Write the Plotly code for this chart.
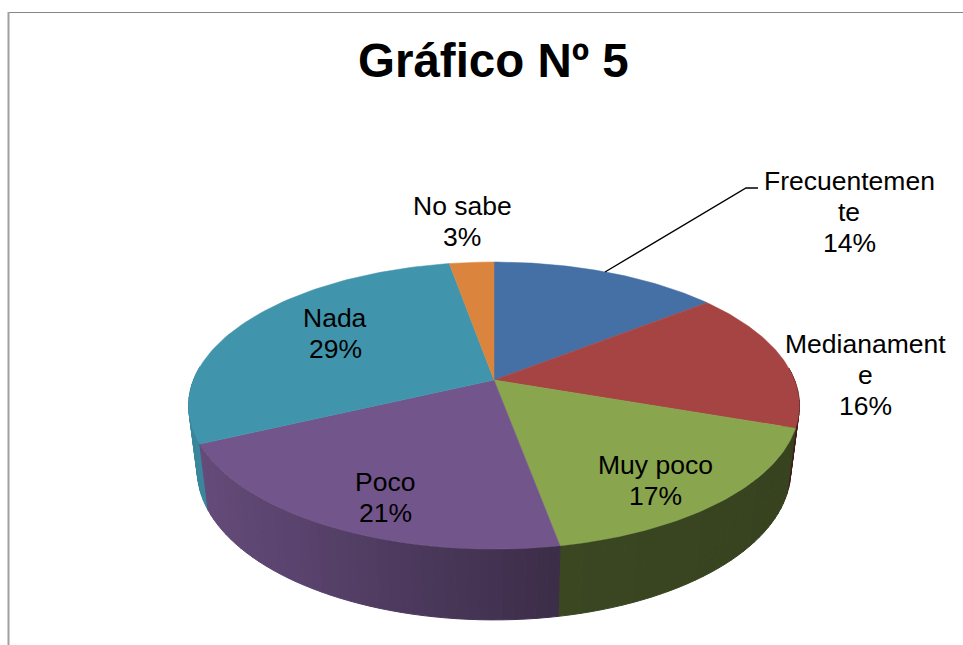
import numpy as np
import plotly.graph_objects as go

title = "Gráfico Nº 5"
categories = ["Frecuentemente", "Medianamente", "Muy poco", "Poco", "Nada", "No sabe"]
values = [14.4, 15.9, 16.8, 20.9, 29.2, 2.8]
label_lines = [["Frecuentemen", "te"], ["Medianament", "e"], ["Muy poco"], ["Poco"], ["Nada"], ["No sabe"]]
label_centres = [(849, 181), (865, 344), (655, 465), (385, 482), (335, 318), (462, 206)]
top_colors = ["#4570a6", "#a54442", "#89a54e", "#72558a", "#4095ad", "#db843d"]
side_left = [0.40, 0.40, 0.43, 0.88, 0.90, 0.80]
side_right = [0.40, 0.40, 0.40, 0.52, 0.88, 0.80]

CX, K = 494.0, 0.178


def project(theta, a, b, y0):
    X, Y = np.sin(theta), -np.cos(theta)
    d = 1 - K * Y
    return CX + a * X / d, y0 + b * Y / d, Y


def top(theta):
    return project(theta, 300.5, 139.0, 380.0)


def bottom(theta):
    return project(theta, 292.0, 145.0, 443.5)


def shade(hex_color, f):
    r, g, b = [int(hex_color[i:i + 2], 16) for i in (1, 3, 5)]
    return f"rgb({r * f:.0f},{g * f:.0f},{b * f:.0f})"


fractions = np.cumsum([0] + values) / sum(values)
fig = go.Figure()

# side wall strips, far to near
strips = []
for i in range(len(values)):
    t0, t1 = 2 * np.pi * fractions[i], 2 * np.pi * fractions[i + 1]
    n = max(2, int(values[i] * 2))
    edges = np.linspace(t0, t1, n + 1)
    sx = top(np.linspace(t0, t1, 100))[0]
    lo, hi = sx.min(), sx.max()
    for j in range(n):
        a, c = edges[j], edges[j + 1]
        m = (a + c) / 2
        xm, _, ym = top(m)
        if ym < -0.1:
            continue
        fine = np.linspace(a, c, 6)
        tx, ty, _ = top(fine)
        bx, by, _ = bottom(fine)
        xs = np.concatenate([tx, bx[::-1], tx[:1]])
        ys = np.concatenate([ty, by[::-1], ty[:1]])
        s = (xm - lo) / (hi - lo)
        f = side_left[i] + (side_right[i] - side_left[i]) * s
        strips.append((ym, xs, ys, shade(top_colors[i], f)))

for _, xs, ys, col in sorted(strips, key=lambda q: q[0]):
    fig.add_trace(go.Scatter(x=xs, y=ys, mode="lines", fill="toself", fillcolor=col,
                             line=dict(color=col, width=1), hoverinfo="skip", showlegend=False))

# top face
for i, name in enumerate(categories):
    arc = np.linspace(2 * np.pi * fractions[i], 2 * np.pi * fractions[i + 1], 80)
    ax, ay, _ = top(arc)
    fig.add_trace(go.Scatter(x=np.concatenate([[CX], ax, [CX]]), y=np.concatenate([[380.0], ay, [380.0]]),
                             mode="lines", fill="toself", fillcolor=top_colors[i],
                             line=dict(color=top_colors[i], width=0.5), name=name,
                             hoverinfo="name", showlegend=False))

# leader line
fig.add_trace(go.Scatter(x=[605, 746, 758], y=[272, 188, 188], mode="lines",
                         line=dict(color="black", width=1.4), hoverinfo="skip", showlegend=False))

LINE = 31
FONT = "Liberation Sans, Arial, sans-serif"
for i, (lines, (cx, cy)) in enumerate(zip(label_lines, label_centres)):
    rows = lines + [f"{values[i]:.0f}%"]
    for r, text in enumerate(rows):
        fig.add_annotation(x=cx, y=cy + r * LINE, text=text, showarrow=False, xanchor="center",
                           yanchor="middle", font=dict(family=FONT, size=26.5, color="black"))

fig.add_annotation(x=493, y=60, text=f"<b>{title}</b>", showarrow=False, xanchor="center", yanchor="middle",
                   font=dict(family=FONT, size=47.5, color="black"))

# chart frame
fig.add_shape(type="line", x0=8, x1=963, y0=12.5, y1=12.5, line=dict(color="#868686", width=1))
fig.add_shape(type="line", x0=8.5, x1=8.5, y0=12, y1=645, line=dict(color="#a0a0a0", width=2))

fig.update_layout(width=963, height=645, margin=dict(l=0, r=0, t=0, b=0), paper_bgcolor="white",
                  plot_bgcolor="white", showlegend=False,
                  xaxis=dict(range=[0, 963], visible=False, fixedrange=True),
                  yaxis=dict(range=[645, 0], visible=False, fixedrange=True))
fig.write_html("out.html", config=dict(displayModeBar=False),
               post_script="document.body.style.margin='0';document.body.style.overflow='hidden';")
